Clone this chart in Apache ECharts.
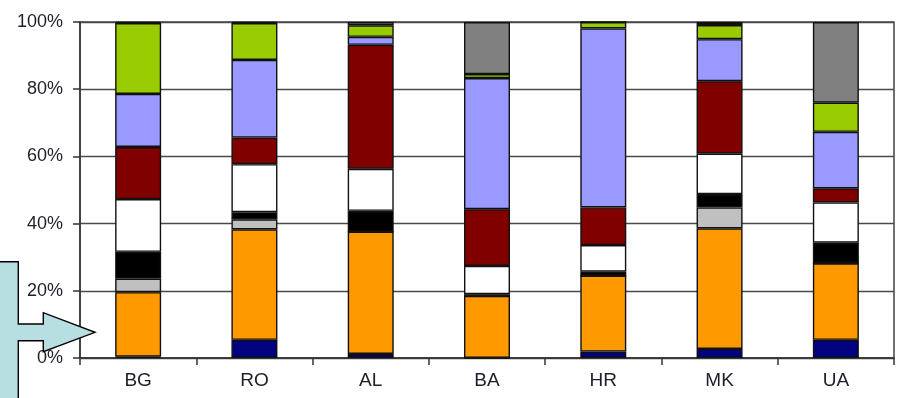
<!DOCTYPE html>
<html>
<head>
<meta charset="utf-8">
<script src="https://cdn.jsdelivr.net/npm/echarts@6/dist/echarts.min.js"></script>
<style>
  html, body { margin: 0; padding: 0; background: #fff; }
  #chart { width: 900px; height: 398px; }
</style>
</head>
<body>
<div id="chart"></div>
<script>
// Country codes along the x axis
const categories = ['BG', 'RO', 'AL', 'BA', 'HR', 'MK', 'UA'];

// Share of each component per country (percent), stacked bottom to top
const navy     = [0.4, 5.4, 1.2, 0.0, 1.9, 2.7, 5.4];
const orange   = [19.2, 32.9, 36.4, 18.5, 22.6, 35.9, 22.8];
const silver   = [4.0, 3.0, 0.0, 0.0, 0.0, 6.2, 0.0];
const black    = [8.0, 2.1, 6.2, 0.5, 1.2, 4.0, 6.1];
const white    = [15.7, 14.3, 12.5, 8.4, 7.9, 12.0, 12.0];
const maroon   = [15.5, 7.9, 36.9, 16.9, 11.2, 21.6, 4.2];
const lavender = [15.8, 23.1, 2.4, 39.0, 53.3, 12.5, 16.8];
const green    = [21.1, 11.0, 3.4, 1.2, 1.9, 4.2, 8.7];
const gray     = [0.3, 0.3, 1.0, 15.5, 0.0, 0.9, 24.0];

// Y axis tick labels
const yTicks = ['0%', '20%', '40%', '60%', '80%', '100%'];

const segments = [
  { name: 'navy', data: navy, color: '#000080' },
  { name: 'orange', data: orange, color: '#FF9900' },
  { name: 'silver', data: silver, color: '#C0C0C0' },
  { name: 'black', data: black, color: '#000000' },
  { name: 'white', data: white, color: '#FFFFFF' },
  { name: 'maroon', data: maroon, color: '#800000' },
  { name: 'lavender', data: lavender, color: '#9999FF' },
  { name: 'green', data: green, color: '#99CC00' },
  { name: 'gray', data: gray, color: '#808080' }
];

const chart = echarts.init(document.getElementById('chart'), null, { renderer: 'canvas' });

const labelFont = 'Liberation Sans, Arial, sans-serif';

const option = {
  animation: false,
  backgroundColor: '#ffffff',
  grid: {
    left: 80, right: 6, top: 22, bottom: 40,
    show: true, borderColor: '#444', borderWidth: 1.5, backgroundColor: 'transparent'
  },
  xAxis: {
    type: 'category',
    data: categories,
    axisLine: { show: true, lineStyle: { color: '#333', width: 1.5 } },
    axisTick: { show: true, length: 7, lineStyle: { color: '#333', width: 1.5 } },
    axisLabel: { color: '#1e1e2a', fontSize: 19, fontFamily: labelFont, margin: 13 },
    splitLine: { show: false }
  },
  yAxis: {
    type: 'value',
    min: 0, max: 100, interval: 20,
    axisLine: { show: true, lineStyle: { color: '#333', width: 1.5 } },
    axisTick: { show: true, length: 7, lineStyle: { color: '#333', width: 1.5 } },
    axisLabel: {
      color: '#1e1e2a', fontSize: 18, fontFamily: labelFont, margin: 17,
      formatter: function (v) { return yTicks[Math.round(v / 20)]; }
    },
    splitLine: { show: true, lineStyle: { color: '#4a4a4a', width: 1.3 } }
  },
  series: segments.map(s => ({
    name: s.name,
    type: 'bar',
    stack: 'share',
    barWidth: 46,
    data: s.data,
    itemStyle: { color: s.color, borderColor: '#111', borderWidth: 1.4 }
  })),
  graphic: [{
    type: 'polygon',
    z: 100,
    shape: {
      points: [
        [-2, 261.7], [18.3, 261.7], [18.3, 324], [43.3, 324], [43.3, 312.7],
        [95, 332.3], [43.3, 351.7], [43.3, 340.7], [18.3, 340.7], [18.3, 402], [-2, 402]
      ]
    },
    style: { fill: '#B7DEE0', stroke: '#000', lineWidth: 1.4 }
  }]
};

chart.setOption(option);
</script>
</body>
</html>
